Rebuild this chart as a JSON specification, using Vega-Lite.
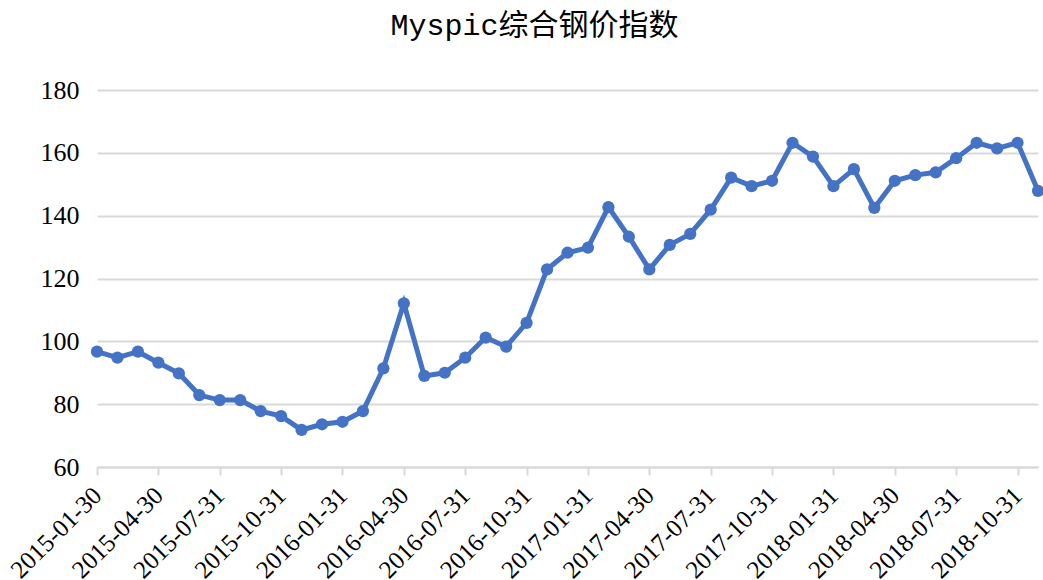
{
  "$schema": "https://vega.github.io/schema/vega-lite/v6.json",
  "width": 941,
  "height": 377,
  "autosize": "none",
  "padding": {"left": 97, "top": 90, "right": 5, "bottom": 113},
  "background": "white",
  "title": {
    "text": "Myspic综合钢价指数",
    "font": "Liberation Mono, Noto Sans CJK SC",
    "fontSize": 30,
    "fontWeight": "normal",
    "color": "#000000",
    "anchor": "middle",
    "dx": -33,
    "offset": 36
  },
  "data": {
    "values": [
      {"d": "2015-01-30", "v": 96.7}, {"d": "2015-02-28", "v": 94.8}, {"d": "2015-03-31", "v": 96.7},
      {"d": "2015-04-30", "v": 93.2}, {"d": "2015-05-31", "v": 89.8}, {"d": "2015-06-30", "v": 82.9},
      {"d": "2015-07-31", "v": 81.3}, {"d": "2015-08-31", "v": 81.3}, {"d": "2015-09-30", "v": 77.8},
      {"d": "2015-10-31", "v": 76.2}, {"d": "2015-11-30", "v": 71.8}, {"d": "2015-12-31", "v": 73.6},
      {"d": "2016-01-31", "v": 74.4}, {"d": "2016-02-29", "v": 77.8}, {"d": "2016-03-31", "v": 91.4},
      {"d": "2016-04-30", "v": 112.1}, {"d": "2016-05-31", "v": 89.0}, {"d": "2016-06-30", "v": 90.0},
      {"d": "2016-07-31", "v": 94.8}, {"d": "2016-08-31", "v": 101.2}, {"d": "2016-09-30", "v": 98.3},
      {"d": "2016-10-31", "v": 105.9}, {"d": "2016-11-30", "v": 122.9}, {"d": "2016-12-31", "v": 128.2},
      {"d": "2017-01-31", "v": 129.8}, {"d": "2017-02-28", "v": 142.7}, {"d": "2017-03-31", "v": 133.3},
      {"d": "2017-04-30", "v": 122.9}, {"d": "2017-05-31", "v": 130.7}, {"d": "2017-06-30", "v": 134.2},
      {"d": "2017-07-31", "v": 141.9}, {"d": "2017-08-31", "v": 152.1}, {"d": "2017-09-30", "v": 149.4},
      {"d": "2017-10-31", "v": 151.1}, {"d": "2017-11-30", "v": 163.2}, {"d": "2017-12-31", "v": 158.8},
      {"d": "2018-01-31", "v": 149.4}, {"d": "2018-02-28", "v": 154.8}, {"d": "2018-03-31", "v": 142.5},
      {"d": "2018-04-30", "v": 151.1}, {"d": "2018-05-31", "v": 152.9}, {"d": "2018-06-30", "v": 153.8},
      {"d": "2018-07-31", "v": 158.3}, {"d": "2018-08-31", "v": 163.2}, {"d": "2018-09-30", "v": 161.4},
      {"d": "2018-10-31", "v": 163.2}, {"d": "2018-11-30", "v": 147.9}
    ]
  },
  "encoding": {
    "x": {
      "field": "d",
      "type": "ordinal",
      "sort": null,
      "scale": {"type": "point", "padding": 0},
      "axis": {
        "title": null,
        "values": ["2015-01-30", "2015-04-30", "2015-07-31", "2015-10-31", "2016-01-31", "2016-04-30", "2016-07-31", "2016-10-31", "2017-01-31", "2017-04-30", "2017-07-31", "2017-10-31", "2018-01-31", "2018-04-30", "2018-07-31", "2018-10-31"],
        "labelAngle": -45,
        "labelAlign": "right",
        "labelBaseline": "middle",
        "labelFont": "Liberation Serif, serif",
        "labelFontSize": 25,
        "labelColor": "#000000",
        "labelPadding": 16,
        "labelOverlap": false,
        "domainColor": "#d9d9d9",
        "domainWidth": 2,
        "tickColor": "#d9d9d9",
        "tickWidth": 2,
        "tickSize": 8,
        "grid": false
      }
    },
    "y": {
      "field": "v",
      "type": "quantitative",
      "scale": {"domain": [60, 180], "nice": false, "zero": false},
      "axis": {
        "title": null,
        "values": [60, 80, 100, 120, 140, 160, 180],
        "labelFont": "Liberation Serif, serif",
        "labelFontSize": 26,
        "labelColor": "#000000",
        "labelPadding": 18,
        "domain": false,
        "ticks": false,
        "grid": true,
        "gridColor": "#d9d9d9",
        "gridWidth": 2
      }
    }
  },
  "layer": [
    {"mark": {"type": "line", "color": "#4472C4", "strokeWidth": 5}},
    {"mark": {"type": "point", "filled": true, "color": "#4472C4", "opacity": 1, "size": 150}}
  ],
  "config": {"view": {"stroke": null}}
}
